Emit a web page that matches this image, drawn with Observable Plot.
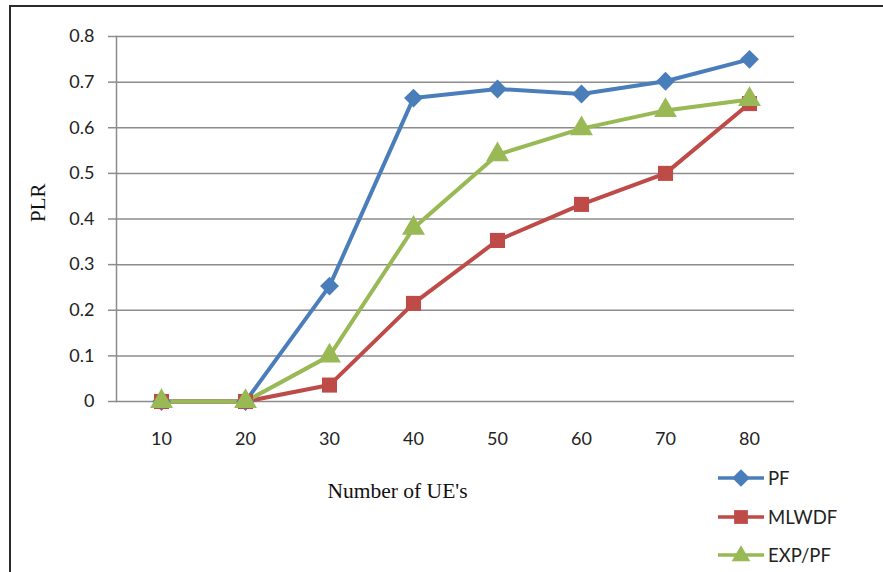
<!DOCTYPE html>
<html><head><meta charset="utf-8">
<script src="https://cdn.jsdelivr.net/npm/d3@7"></script>
<script src="https://cdn.jsdelivr.net/npm/@observablehq/plot@0.6"></script>
<style>
body{margin:0;background:#fff;}
#wrap{position:relative;width:883px;height:572px;overflow:hidden;}
#frame{position:absolute;left:9px;top:5px;width:900px;height:600px;border-left:2px solid #2b2b2b;border-top:2px solid #2b2b2b;pointer-events:none;}
#legend{position:absolute;left:716px;top:459px;font-family:Lato,"Open Sans",sans-serif;font-size:18.5px;color:#222;}
.row{display:flex;align-items:center;height:38.5px;}
.row svg{margin-right:2px;}
</style></head>
<body><div id="wrap"><div id="frame"></div><div id="legend"></div></div>
<script>
const categories = [10, 20, 30, 40, 50, 60, 70, 80];
const seriesNames = ["PF", "MLWDF", "EXP/PF"];
const pf     = [0, 0, 0.253, 0.665, 0.685, 0.674, 0.702, 0.750];
const mlwdf  = [0, 0, 0.036, 0.215, 0.353, 0.432, 0.500, 0.653];
const exppf  = [0, 0, 0.100, 0.380, 0.541, 0.598, 0.638, 0.662];
const yTicks = [0, 0.1, 0.2, 0.3, 0.4, 0.5, 0.6, 0.7, 0.8];
const colors = ["#4a7ebb", "#be4b48", "#98b954"];
const symbols = ["diamond2", "square", "triangle"];

const values = [pf, mlwdf, exppf];
const data = [];
seriesNames.forEach((s, i) => categories.forEach((c, j) => data.push({series: s, x: String(c), y: values[i][j]})));

const font = "Lato, 'Open Sans', sans-serif";
const serif = "'Liberation Serif', 'DejaVu Serif', serif";
const chart = Plot.plot({
  width: 883, height: 572,
  marginLeft: 116, marginRight: 89, marginTop: 36, marginBottom: 171,
  style: {fontFamily: font, fontSize: "18px", color: "#222", background: "transparent"},
  x: {type: "point", domain: categories.map(String), padding: 0.5, label: null},
  y: {domain: [0, 0.8], label: null},
  color: {domain: seriesNames, range: colors},
  symbol: {domain: seriesNames, range: symbols},
  marks: [
    Plot.ruleY(yTicks, {stroke: "#8c8c8c", strokeWidth: 1.5, strokeOpacity: 1}),
    Plot.axisY(yTicks, {tickSize: 8, tickPadding: 14, stroke: "#8c8c8c", strokeWidth: 1.5, strokeOpacity: 1, tickFormat: d => String(d), fontSize: 18, label: null}),
    Plot.axisX({tickSize: 0, tickPadding: 31, fontSize: 18, label: null}),
    Plot.frame({anchor: "left", stroke: "#8c8c8c", strokeWidth: 1.5}),
    Plot.line(data, {x: "x", y: "y", z: "series", stroke: "series", strokeWidth: 4}),
    Plot.dot(data, {x: "x", y: "y", symbol: "series", fill: "series", r: 8.5, stroke: "none"}),
    Plot.text(["PLR"], {frameAnchor: "left", dx: -78, dy: 3, rotate: -90, fontFamily: serif, fontSize: 21, fill: "#111"}),
    Plot.text(["Number of UE's"], {frameAnchor: "bottom-left", textAnchor: "start", dx: 211, dy: 96, fontFamily: serif, fontSize: 21.5, letterSpacing: "-0.4px", fill: "#111"})
  ]
});
chart.style.position = "absolute";
chart.style.left = "0px";
chart.style.top = "0px";
document.getElementById("wrap").prepend(chart);

const legend = document.getElementById("legend");
seriesNames.forEach((s, i) => {
  const row = document.createElement("div");
  row.className = "row";
  const sym = d3.symbol(i === 0 ? d3.symbolDiamond2 : i === 1 ? d3.symbolSquare : d3.symbolTriangle, i === 0 ? 200 : i === 1 ? 190 : 150)();
  row.innerHTML = `<svg width="50" height="22"><line x1="2" x2="48" y1="11" y2="11" stroke="${colors[i]}" stroke-width="3.5"/><path d="${sym}" transform="translate(25,${i===2?12:11})" fill="${colors[i]}"/></svg><span>${s}</span>`;
  legend.appendChild(row);
});
</script>
</body></html>
